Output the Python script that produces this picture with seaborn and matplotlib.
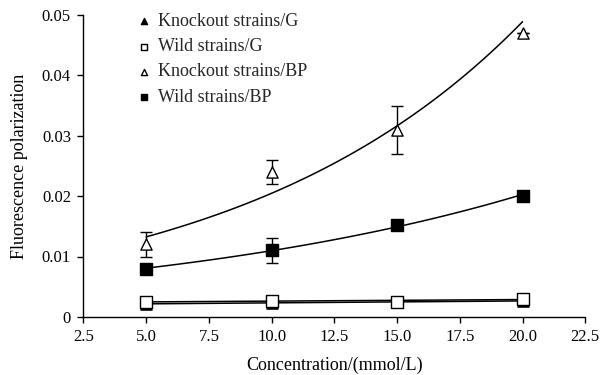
import numpy as np
import pandas as pd
import matplotlib
matplotlib.use("Agg")
import matplotlib.pyplot as plt
import seaborn as sns

# ---- data ----
conc = [5.0, 10.0, 15.0, 20.0]
ko_g = [0.0022, 0.0023, 0.0024, 0.0027]
ko_g_err = [0.0004, 0.0003, 0.0003, 0.0002]
wt_g = [0.0025, 0.0027, 0.0025, 0.0030]
wt_g_err = [0.0005, 0.0005, 0.0004, 0.0002]
ko_bp = [0.012, 0.024, 0.031, 0.047]
ko_bp_err = [0.002, 0.002, 0.004, 0.0]
wt_bp = [0.008, 0.011, 0.0152, 0.020]
wt_bp_err = [0.0007, 0.002, 0.0003, 0.0008]
series_names = ["Knockout strains/G", "Wild strains/G",
                "Knockout strains/BP", "Wild strains/BP"]
x_ticks = [2.5, 5.0, 7.5, 10.0, 12.5, 15.0, 17.5, 20.0, 22.5]
y_ticks = [0, 0.01, 0.02, 0.03, 0.04, 0.05]

sns.set_theme(style="ticks")
plt.rcParams["font.family"] = ["Liberation Serif", "DejaVu Serif"]

fig = plt.figure(figsize=(6.09, 3.75), dpi=100)
ax = fig.add_axes([0.137, 0.155, 0.824, 0.805])

series = [
    (ko_g, ko_g_err, "^", "black", "black", "lin"),
    (wt_g, wt_g_err, "s", "white", "black", "lin"),
    (ko_bp, ko_bp_err, "^", "white", "black", "exp"),
    (wt_bp, wt_bp_err, "s", "black", "black", "exp"),
]

xs = np.array(conc)
xfine = np.linspace(xs.min(), xs.max(), 100)
handles = []
for name, (vals, errs, mk, fc, ec, kind) in zip(series_names, series):
    v = np.array(vals)
    if kind == "exp":
        b, a = np.polyfit(xs, np.log(v), 1)
        yfit = np.exp(a + b * xfine)
    else:
        b, a = np.polyfit(xs, v, 1)
        yfit = a + b * xfine
    sns.lineplot(x=xfine, y=yfit, ax=ax, color="black", linewidth=1.1,
                 legend=False)
    ax.errorbar(xs, v, yerr=errs, fmt="none", ecolor="black",
                elinewidth=1.0, capsize=4, capthick=1.0, zorder=3)
    h = ax.scatter(xs, v, marker=mk, s=65, facecolor=fc, edgecolor=ec,
                   linewidths=1.0, zorder=4, label=name)
    handles.append(h)

ax.set_xlim(2.5, 22.5)
ax.set_ylim(0, 0.05)
ax.set_xticks(x_ticks)
ax.set_xticklabels([f"{t:.1f}" for t in x_ticks])
ax.set_yticks(y_ticks)
ax.set_yticklabels(["0" if t == 0 else f"{t:.2f}" for t in y_ticks])
ax.tick_params(axis="both", direction="out", length=4, width=1,
               labelsize=12, color="black", labelcolor="black", pad=5)
for s in ["left", "bottom"]:
    ax.spines[s].set_color("black")
    ax.spines[s].set_linewidth(1.0)
sns.despine(ax=ax)

ax.set_xlabel("Concentration/(mmol/L)", fontsize=13, color="black",
              labelpad=8)
ax.set_ylabel("Fluorescence polarization", fontsize=13, color="black",
              labelpad=10)

leg = ax.legend(handles=handles, labels=series_names, loc="upper left",
                bbox_to_anchor=(0.07, 1.06), frameon=False, fontsize=13,
                handletextpad=0.3, labelspacing=0.45, markerscale=0.55,
                handlelength=1.0)

fig.savefig("out.png", dpi=100)
